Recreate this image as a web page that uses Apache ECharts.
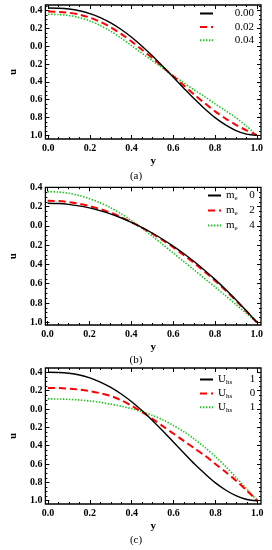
<!DOCTYPE html>
<html><head><meta charset="utf-8">
<script src="https://cdn.jsdelivr.net/npm/echarts@6/dist/echarts.min.js"></script>
<style>html,body{margin:0;padding:0;background:#fff}#c{width:272px;height:550px}</style>
</head><body><div id="c"></div>
<script>
// ---- data ----
const xs = [0,0.05,0.1,0.15,0.2,0.25,0.3,0.35,0.4,0.45,0.5,0.55,0.6,0.65,0.7,0.75,0.8,0.85,0.9,0.95,1.0];

// panel (a)
const aNames = ['0.00','0.02','0.04'];
const aBlack = [0.43,0.428,0.419,0.400,0.368,0.322,0.263,0.189,0.102,0.001,-0.108,-0.226,-0.348,-0.471,-0.591,-0.701,-0.802,-0.884,-0.947,-0.987,-1.0];
const aRed   = [0.39,0.387,0.377,0.356,0.322,0.274,0.213,0.139,0.054,-0.039,-0.133,-0.234,-0.338,-0.441,-0.543,-0.639,-0.732,-0.812,-0.882,-0.945,-1.0];
const aGreen = [0.36,0.357,0.345,0.322,0.285,0.233,0.169,0.091,0.007,-0.079,-0.163,-0.246,-0.33,-0.411,-0.491,-0.566,-0.647,-0.724,-0.802,-0.897,-1.0];

// panel (b)
const bNames = ['me 0','me 2','me 4'];
const bValues = ['0','2','4'];
const bBlack = [0.235,0.232,0.223,0.207,0.186,0.158,0.124,0.084,0.037,-0.015,-0.074,-0.139,-0.21,-0.287,-0.37,-0.46,-0.555,-0.657,-0.765,-0.88,-1.0];
const bRed   = [0.26,0.257,0.247,0.229,0.206,0.175,0.137,0.092,0.039,-0.018,-0.081,-0.149,-0.222,-0.301,-0.385,-0.474,-0.568,-0.668,-0.774,-0.886,-1.0];
const bGreen = [0.355,0.351,0.338,0.315,0.282,0.24,0.189,0.128,0.057,-0.022,-0.106,-0.193,-0.281,-0.369,-0.457,-0.545,-0.634,-0.724,-0.815,-0.907,-1.0];

// panel (c)
const cNames = ['Uhs -1','Uhs 0','Uhs 1'];
const cValues = ['1','0','1'];
const cBlack = [0.40,0.398,0.389,0.371,0.339,0.294,0.236,0.164,0.079,-0.02,-0.127,-0.242,-0.362,-0.482,-0.6,-0.707,-0.806,-0.886,-0.948,-0.987,-1.0];
const cRed   = [0.23,0.228,0.222,0.211,0.195,0.172,0.142,0.095,0.035,-0.035,-0.11,-0.19,-0.27,-0.35,-0.43,-0.51,-0.6,-0.69,-0.785,-0.89,-1.0];
const cGreen = [0.11,0.109,0.105,0.098,0.087,0.072,0.053,0.03,0.003,-0.03,-0.07,-0.12,-0.18,-0.25,-0.33,-0.42,-0.52,-0.63,-0.75,-0.875,-1.0];

// ticks
const xTicks = [0,0.2,0.4,0.6,0.8,1.0];
const yTicks = [0.4,0.2,0,-0.2,-0.4,-0.6,-0.8,-1.0];
const xMinor = [0.05,0.1,0.15,0.25,0.3,0.35,0.45,0.5,0.55,0.65,0.7,0.75,0.85,0.9,0.95];
const yMinor = [0.45,0.35,0.3,0.25,0.15,0.1,0.05,-0.05,-0.1,-0.15,-0.25,-0.3,-0.35,-0.45,-0.5,-0.55,-0.65,-0.7,-0.75,-0.85,-0.9,-0.95];
const panelLabels = ['(a)','(b)','(c)'];

// ---- layout / styling ----
const FONT = 'Liberation Serif';
const panels = [
  {grid:{left:41.5, top:5, width:219.5, height:134}, x:[-0.0132,1.02], y:[-1.042,0.464],
   names:aNames, series:[aBlack,aRed,aGreen], legendTop:8, legendLeft:199, titleTop:171},
  {grid:{left:37.7, top:187.3, width:223.3, height:137.7}, x:[-0.0106,1.02], y:[-1.028,0.4],
   names:bNames, series:[bBlack,bRed,bGreen], legendTop:190, legendLeft:207, titleTop:355},
  {grid:{left:41.7, top:368, width:219.3, height:136}, x:[-0.0122,1.0174], y:[-1.036,0.447],
   names:cNames, series:[cBlack,cRed,cGreen], legendTop:374, legendLeft:199, titleTop:535}
];
const lineStyles = [
  {color:'#000000', width:1.4, type:'solid'},
  {color:'#ff0000', width:2, type:[7,4]},
  {color:'#19c319', width:1.6, type:[1.4,1.6]}
];

const grids=[], xAxes=[], yAxes=[], series=[], legends=[], titles=[];
panels.forEach((p,gi)=>{
  grids.push(Object.assign({show:true, borderColor:'#000', borderWidth:1.3, backgroundColor:'transparent', containLabel:false}, p.grid));
  const mainX = xAxes.length;
  const axBase = {gridIndex:gi, type:'value', axisLine:{show:false, onZero:false}, splitLine:{show:false}};
  xAxes.push(Object.assign({}, axBase, {min:p.x[0], max:p.x[1], position:'bottom',
    name:'y', nameLocation:'middle', nameGap:17,
    nameTextStyle:{fontFamily:FONT, fontWeight:'bold', fontSize:11, color:'#000'},
    axisTick:{inside:true, length:4, customValues:xTicks, lineStyle:{color:'#000'}},
    axisLabel:{customValues:xTicks, margin:4, fontFamily:FONT, fontWeight:'bold', fontSize:10, color:'#000',
      formatter:v=>v.toFixed(1)}}));
  xAxes.push(Object.assign({}, axBase, {min:p.x[0], max:p.x[1], position:'bottom',
    axisTick:{inside:true, length:2, customValues:xMinor, lineStyle:{color:'#000'}}, axisLabel:{show:false}}));
  xAxes.push(Object.assign({}, axBase, {min:p.x[0], max:p.x[1], position:'top',
    axisTick:{inside:true, length:4, customValues:xTicks, lineStyle:{color:'#000'}}, axisLabel:{show:false}}));
  xAxes.push(Object.assign({}, axBase, {min:p.x[0], max:p.x[1], position:'top',
    axisTick:{inside:true, length:2, customValues:xMinor, lineStyle:{color:'#000'}}, axisLabel:{show:false}}));
  const mainY = yAxes.length;
  yAxes.push(Object.assign({}, axBase, {min:p.y[0], max:p.y[1], position:'left',
    name:'u', nameLocation:'middle', nameGap:23, nameRotate:90,
    nameTextStyle:{fontFamily:FONT, fontWeight:'bold', fontSize:11, color:'#000'},
    axisTick:{inside:true, length:4, customValues:yTicks, lineStyle:{color:'#000'}},
    axisLabel:{customValues:yTicks, margin:3, fontFamily:FONT, fontWeight:'bold', fontSize:10, color:'#000',
      formatter:v=>Math.abs(v).toFixed(1)}}));
  yAxes.push(Object.assign({}, axBase, {min:p.y[0], max:p.y[1], position:'left',
    axisTick:{inside:true, length:2, customValues:yMinor, lineStyle:{color:'#000'}}, axisLabel:{show:false}}));
  yAxes.push(Object.assign({}, axBase, {min:p.y[0], max:p.y[1], position:'right',
    axisTick:{inside:true, length:4, customValues:yTicks, lineStyle:{color:'#000'}}, axisLabel:{show:false}}));
  yAxes.push(Object.assign({}, axBase, {min:p.y[0], max:p.y[1], position:'right',
    axisTick:{inside:true, length:2, customValues:yMinor, lineStyle:{color:'#000'}}, axisLabel:{show:false}}));

  p.series.forEach((vals,si)=>{
    series.push({type:'line', name:p.names[si], xAxisIndex:mainX, yAxisIndex:mainY,
      data:xs.map((x,i)=>[x, vals[i]]), smooth:0.3, symbol:'none',
      lineStyle:lineStyles[si], itemStyle:{color:lineStyles[si].color}, z:3-si+2});
  });

  let formatter, rich;
  if (gi===0) {
    formatter = n => '{v|'+n+'}';
    rich = {v:{width:36, align:'right', fontFamily:FONT, fontSize:11, lineHeight:12, color:'#000'}};
  } else if (gi===1) {
    formatter = n => '{m|m}{s|e}{v|'+bValues[bNames.indexOf(n)]+'}';
    rich = {m:{fontFamily:FONT, fontSize:11, lineHeight:13, color:'#000'},
            s:{fontFamily:FONT, fontSize:7, lineHeight:13, verticalAlign:'bottom', padding:[3,0,0,0], color:'#000'},
            v:{width:17, align:'right', fontFamily:FONT, fontSize:11, lineHeight:13, color:'#000'}};
  } else {
    formatter = n => '{m|U}{s|hs}{v|'+cValues[cNames.indexOf(n)]+'}';
    rich = {m:{fontFamily:FONT, fontSize:11, lineHeight:12, color:'#000'},
            s:{fontFamily:FONT, fontSize:7, lineHeight:12, verticalAlign:'bottom', padding:[3,0,0,0], color:'#000'},
            v:{width:23, align:'right', fontFamily:FONT, fontSize:11, lineHeight:12, color:'#000'}};
  }
  legends.push({data:p.names, orient:'vertical', left:p.legendLeft, top:p.legendTop,
    itemWidth:13, itemHeight:10, itemGap: gi===1 ? 3 : 2.4, padding:0, formatter,
    itemStyle:{opacity:0, borderWidth:0},
    textStyle:{rich}, selectedMode:false});

  titles.push({text:panelLabels[gi], left:'center', top:p.titleTop, padding:0,
    textStyle:{fontFamily:FONT, fontWeight:'normal', fontSize:11, color:'#000'}});
});

const chart = echarts.init(document.getElementById('c'), null, {renderer:'canvas'});
chart.setOption({animation:false, backgroundColor:'#fff', title:titles, grid:grids,
  xAxis:xAxes, yAxis:yAxes, legend:legends, series});
</script></body></html>
